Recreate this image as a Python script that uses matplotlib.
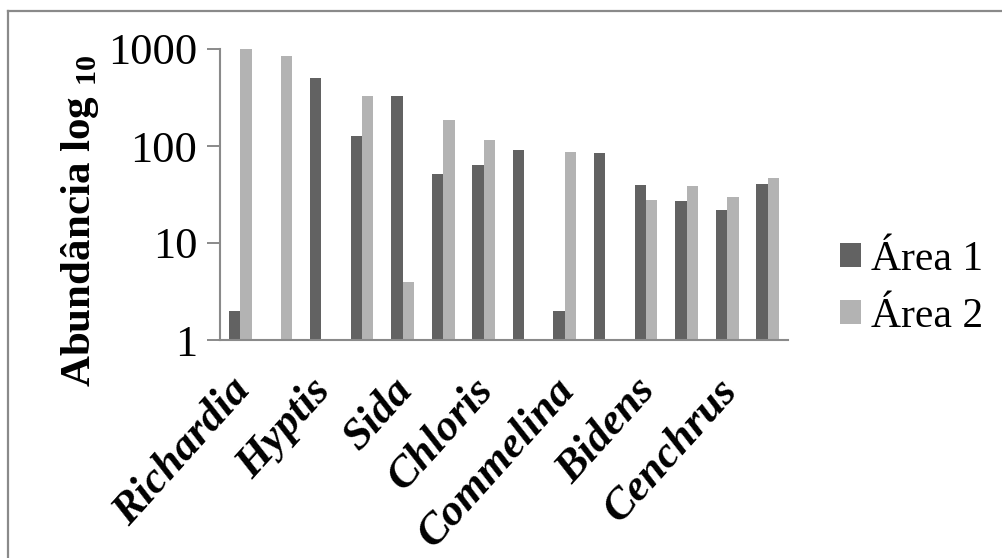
import numpy as np
import matplotlib
matplotlib.use("Agg")
import matplotlib.pyplot as plt
from matplotlib.patches import Patch
from matplotlib.lines import Line2D
import matplotlib.transforms as mtrans

# ---- data ----
tick_labels = ["Richardia", "", "Hyptis", "", "Sida", "", "Chloris", "",
               "Commelina", "", "Bidens", "", "Cenchrus", ""]
area1 = [2, np.nan, 500, 127, 330, 51, 64, 90, 2, 84, 40, 27, 22, 41]
area2 = [1000, 850, np.nan, 330, 4, 184, 114, np.nan, 87, np.nan, 28, 39, 30, 47]
series_names = ["Área 1", "Área 2"]
yticks = [1, 10, 100, 1000]

plt.rcParams['font.family'] = ['Liberation Serif', 'DejaVu Serif']
plt.rcParams['mathtext.fontset'] = 'custom'
plt.rcParams['mathtext.rm'] = 'Liberation Serif'
plt.rcParams['mathtext.bf'] = 'Liberation Serif:bold'

W, H = 1002, 558
fig = plt.figure(figsize=(W / 100, H / 100), dpi=100)
ax = fig.add_axes([220 / W, 1 - 340 / H, 568 / W, 291 / H])

dark = "#626262"
light = "#b3b3b3"
axis_gray = "#8a8a8a"

x = np.arange(len(tick_labels))
bw = 0.28
ax.bar(x - bw / 2, area1, width=bw, color=dark, label=series_names[0])
ax.bar(x + bw / 2, area2, width=bw, color=light, label=series_names[1])

ax.set_yscale('log')
ax.set_ylim(1, 1000)
ax.set_xlim(-0.5, len(tick_labels) - 0.5)
ax.set_yticks(yticks)
ax.set_yticklabels([str(v) for v in yticks])
ax.yaxis.set_minor_locator(matplotlib.ticker.NullLocator())
ax.tick_params(axis='y', length=9.4, width=1.4, color=axis_gray, pad=7,
               labelsize=32, direction='out')

ax.set_xticks(x)
ax.set_xticklabels(tick_labels, rotation=48, ha='right', va='top',
                   rotation_mode='anchor', fontsize=32,
                   fontweight='bold', fontstyle='italic')
ax.tick_params(axis='x', length=0, pad=22)
offset = mtrans.ScaledTranslation(-12 / 100, 0, fig.dpi_scale_trans)
for lab in ax.get_xticklabels():
    lab.set_transform(lab.get_transform() + offset)

for s in ['top', 'right']:
    ax.spines[s].set_visible(False)
for s in ['left', 'bottom']:
    ax.spines[s].set_color(axis_gray)
    ax.spines[s].set_linewidth(1.5)

ax.set_ylabel(r'Abundância log $_{\mathbf{10}}$', fontsize=31, fontweight='bold')
ax.yaxis.set_label_coords(-0.21, 0.41)

# legend
handles = [Patch(facecolor=dark, edgecolor='none'),
           Patch(facecolor=light, edgecolor='none')]
fig.legend(handles, series_names, loc='upper left',
           bbox_to_anchor=(840 / W, 1 - 240 / H), frameon=False,
           fontsize=30, handlelength=0.5, handleheight=0.5,
           handletextpad=0.25, labelspacing=0.45, borderaxespad=0,
           borderpad=0)

# outer chart border (left and top edges visible)
fig.add_artist(Line2D([8 / W, 8 / W], [0, 1 - 11 / H], transform=fig.transFigure,
                      color=axis_gray, linewidth=1.6))
fig.add_artist(Line2D([8 / W, 1], [1 - 11 / H, 1 - 11 / H], transform=fig.transFigure,
                      color=axis_gray, linewidth=1.6))

fig.savefig("out.png", dpi=100)
